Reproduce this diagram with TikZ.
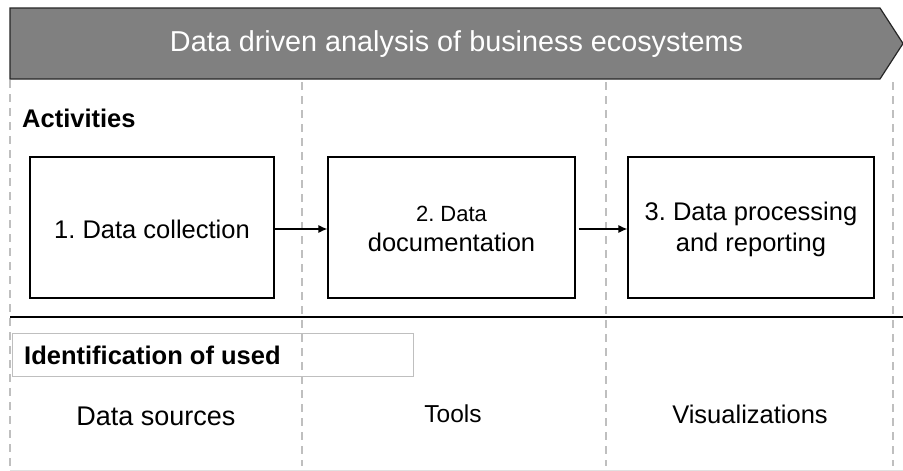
\documentclass[tikz,border=0pt]{standalone}
\usepackage{fontspec}
\setmainfont{Liberation Sans}
\usetikzlibrary{arrows.meta}
\AtBeginDocument{\frenchspacing}
\tikzset{
  sep/.style={draw=black!25, line width=1.6pt, dash pattern=on 8pt off 6pt},
  actbox/.style={draw=black, line width=1.2pt, fill=white},
  flow/.style={-{Latex[length=9pt,width=8pt]}, line width=1.2pt},
  txt/.style={font=\fontsize{25.5}{30}\selectfont, align=center, inner sep=0pt},
}
\begin{document}
\begin{tikzpicture}[x=1pt,y=-1pt]
\useasboundingbox (0,0) rectangle (903,471);
\fill[white] (0,0) rectangle (903,471);
% dashed separators
\draw[sep] (10,80) -- (10,466);
\draw[sep] (302,82) -- (302,466);
\draw[sep] (606,82) -- (606,466);
\draw[sep] (893,82) -- (893,466);
% banner
\draw[fill=black!50, draw=black!85, line width=1.2pt] (10,8) -- (880,8) -- (903,43.5) -- (880,79) -- (10,79) -- cycle;
\node[inner sep=0pt, text=white, font=\fontsize{28.8}{32}\selectfont] (title) at (456.5,44) {Data driven analysis of business ecosystems};
% activities
\node[anchor=west, inner sep=0pt, font=\bfseries\fontsize{25.5}{30}\selectfont] (act) at (22,118) {Activities};
\node[actbox, minimum width=244pt, minimum height=141pt] (b1) at (152,227.5) {};
\node[actbox, minimum width=247pt, minimum height=141pt] (b2) at (451.5,227.5) {};
\node[actbox, minimum width=246pt, minimum height=141pt] (b3) at (751,227.5) {};
\node[txt] (t1) at (152,229) {1. Data collection};
\node[txt, font=\fontsize{22}{26}\selectfont] (t2a) at (451.5,214) {2. Data};
\node[txt] (t2b) at (451.5,242) {documentation};
\node[txt] (t3a) at (751,214) {3. Data processing};
\node[txt] (t3b) at (751,245) {and reporting};
\draw[flow] (b1.east |- 0,229) -- (b2.west |- 0,229);
\draw[flow] ([xshift=3pt]b2.east |- 0,229) -- (b3.west |- 0,229);
% lower section
\draw[line width=1.6pt] (10,317) -- (903,317);
\node[draw=black!25, line width=1pt, minimum width=401pt, minimum height=43pt, inner sep=0pt] (idbox) at (212.5,354.5) {};
\node[anchor=west, inner sep=0pt, font=\bfseries\fontsize{25.5}{30}\selectfont] (idt) at (24,355) {Identification of used};
\node[txt, font=\fontsize{27}{30}\selectfont] (ds) at (156,416) {Data sources};
\node[txt, font=\fontsize{24.5}{30}\selectfont] (tools) at (453,414) {Tools};
\node[txt] (vis) at (750,414) {Visualizations};
\draw[black!12, line width=1pt] (10,470) -- (903,470);
\end{tikzpicture}
\end{document}
